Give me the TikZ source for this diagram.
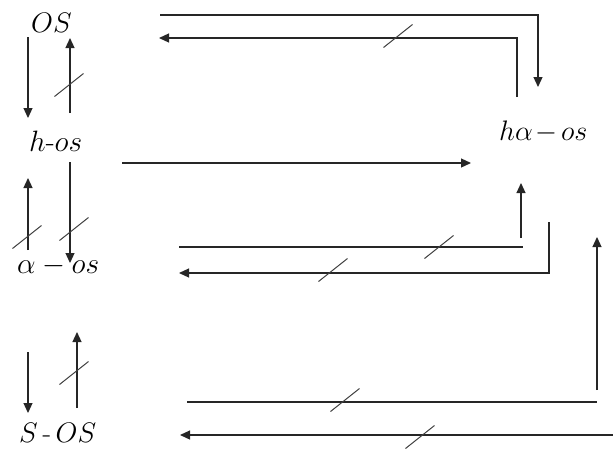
\documentclass[tikz,border=0pt]{standalone}
\usepackage{graphicx}
\usetikzlibrary{arrows.meta}
\newcommand\biglbl[2][1.42]{\scalebox{#1}{\fontsize{20.74}{24}\selectfont #2}}
\begin{document}
\begin{tikzpicture}[x=1pt,y=-1pt,
  conn/.style={line width=1.2pt, black!85},
  arr/.style={conn, -{Triangle[length=10pt,width=9pt]}},
  slashline/.style={line width=1pt, black!75},
  lbl/.style={inner sep=0pt, anchor=base west}]
\useasboundingbox (0,0) rectangle (613,448);
% labels
\node[lbl] (os)   at (31,32)   {\biglbl[1.36]{$OS$}};
\node[lbl] (hos)  at (29,151)  {\biglbl{$h$-$os$}};
\node[lbl] (aos)  at (17,273)  {\biglbl{$\alpha - os$}};
\node[lbl] (sos)  at (19,442)  {\biglbl[1.36]{$S$\,-\,$OS$}};
\node[lbl] (haos) at (499,140) {\biglbl[1.36]{$h\alpha\mkern-2mu-\mkern-2mu os$}};
% coordinates
\coordinate (v1s) at (28,37);   \coordinate (v1e) at (28,118);
\coordinate (v2s) at (70,113);  \coordinate (v2e) at (70,38);
\coordinate (v3s) at (28,250);  \coordinate (v3e) at (28,178);
\coordinate (v4s) at (70,162);  \coordinate (v4e) at (70,263);
\coordinate (v5s) at (28,352);  \coordinate (v5e) at (28,413);
\coordinate (v6s) at (77,408);  \coordinate (v6e) at (77,332);
\coordinate (t1s) at (160,15);  \coordinate (t1e) at (538,87);
\coordinate (t2s) at (517,97);  \coordinate (t2e) at (159,38);
\coordinate (m1s) at (122,163); \coordinate (m1e) at (471,163);
\coordinate (l1s) at (179,247); \coordinate (l1e) at (523,247);
\coordinate (u1s) at (521,238); \coordinate (u1e) at (521,183);
\coordinate (l2s) at (549,222); \coordinate (l2e) at (179,273);
\coordinate (l3s) at (187,402); \coordinate (l3e) at (597,402);
\coordinate (u2s) at (597,390); \coordinate (u2e) at (597,237);
\coordinate (b1s) at (613,435); \coordinate (b1e) at (180,435);
% vertical arrows on the left
\draw[arr] (v1s) -- (v1e);
\draw[arr] (v2s) -- (v2e);
\draw[arr] (v3s) -- (v3e);
\draw[arr] (v4s) -- (v4e);
\draw[arr] (v5s) -- (v5e);
\draw[arr] (v6s) -- (v6e);
% loops
\draw[arr] (t1s) -| (t1e);
\draw[arr] (t2s) |- (t2e);
\draw[arr] (m1s) -- (m1e);
\draw[conn] (l1s) -- (l1e);
\draw[arr] (u1s) -- (u1e);
\draw[arr] (l2s) |- (l2e);
\draw[conn] (l3s) -- (l3e);
\draw[arr] (u2s) -- (u2e);
\draw[arr] (b1s) -- (b1e);
% slashes
\foreach \cx/\cy in {69/85, 27/237, 74/229, 74/373, 398/36, 439/247, 333/270, 345/400, 420/437}
  \draw[slashline, shift={(\cx,\cy)}] (-14.5,11.5) -- (14.5,-11.5);
\end{tikzpicture}
\end{document}
